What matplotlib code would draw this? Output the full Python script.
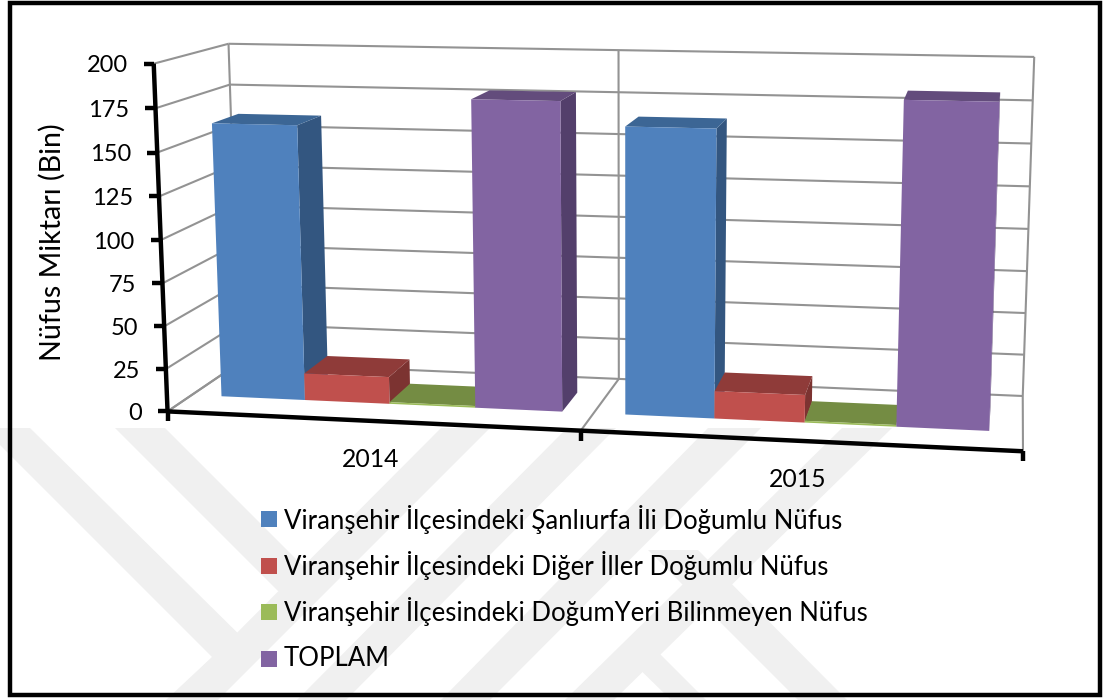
#!/usr/bin/env python3
"""3D clustered bars (Excel look) drawn through a small camera model."""
import numpy as np
import matplotlib
matplotlib.use("Agg")
import matplotlib.pyplot as plt
from matplotlib.patches import Polygon, Rectangle

plt.rcParams["font.family"] = ["Lato", "DejaVu Sans"]

years = ["2014", "2015"]
series = ["Viranşehir İlçesindeki Şanlıurfa İli Doğumlu Nüfus",
          "Viranşehir İlçesindeki Diğer İller Doğumlu Nüfus",
          "Viranşehir İlçesindeki DoğumYeri Bilinmeyen Nüfus",
          "TOPLAM"]
sanliurfa = [162, 165.5]
diger = [16, 16]
bilinmeyen = [1, 1]
toplam = [179, 183.5]
values = [sanliurfa, diger, bilinmeyen, toplam]
yticks = [0, 25, 50, 75, 100, 125, 150, 175, 200]

front = ["#4F81BD", "#C0504D", "#9BBB59", "#8264A2"]
top = ["#3C6695", "#8F3B39", "#748C43", "#634C7C"]
side = ["#335680", "#7C3331", "#5F7337", "#533F6B"]

# camera calibration: (category, value, depth) -> pixel
world = np.array([(0, 0, 0), (0, 200, 0), (0, 200, 1), (0, 0, 1), (1, 200, 1), (1, 0, 1),
                  (2, 200, 1), (2, 0, 1), (2, 0, 0), (1, 0, 0)], float)
pixel = np.array([(167, 411), (154, 64), (228, 43.5), (240, 363), (619, 50), (618, 379),
                  (1034, 57), (1023, 396), (1023, 451), (581, 431)], float)


def fit_camera(w, p):
    rows, rhs = [], []
    for (x, y, z), (u, v) in zip(w, p):
        rows.append([x, y, z, 1, 0, 0, 0, 0, -u * x, -u * y, -u * z]); rhs.append(u)
        rows.append([0, 0, 0, 0, x, y, z, 1, -v * x, -v * y, -v * z]); rhs.append(v)
    m = np.linalg.lstsq(np.array(rows), np.array(rhs), rcond=None)[0]
    return np.append(m, 1).reshape(3, 4)


CAM = fit_camera(world / [1, 100, 1], pixel)


def proj(x, y, z):
    h = CAM @ np.array([x, y / 100, z, 1.0])
    return h[0] / h[2], h[1] / h[2]


fig = plt.figure(figsize=(11.05, 7.0), dpi=100)
ax = fig.add_axes([0, 0, 1, 1])
ax.set_xlim(0, 1105); ax.set_ylim(700, 0); ax.axis("off")


def pline(a, b, **kw):
    pa, pb = proj(*a), proj(*b)
    ax.plot([pa[0], pb[0]], [pa[1], pb[1]], solid_capstyle="butt", **kw)


# watermark bands
BAND = "#F0F0F0"
for pts in [[(0, 428), (30, 428), (260, 655), (215, 700), (166, 700), (212, 657), (0, 445)],
            [(115, 428), (165, 428), (320, 583), (278, 591)],
            [(170, 700), (218, 700), (490, 428), (441, 428)],
            [(297, 700), (346, 700), (616, 428), (567, 428)],
            [(441, 700), (490, 700), (761, 428), (708, 428)],
            [(565, 700), (614, 700), (892, 428), (842, 428)],
            [(648, 550), (698, 550), (847, 700), (798, 700)],
            [(620, 650), (656, 650), (706, 700), (671, 700)]]:
    ax.add_patch(Polygon(pts, closed=True, fc=BAND, ec="none", zorder=0))

# grid
GRID = dict(color="#939393", lw=1.5, zorder=1)
for v in yticks:
    pline((0, v, 0), (0, v, 1), **GRID)
    pline((0, v, 1), (2, v, 1), **GRID)
for c in range(3):
    pline((c, 0, 1), (c, 200, 1), **GRID)
    pline((c, 0, 0), (c, 0, 1), **GRID)

# bars
GAP = 0.076
W = (1 - 2 * GAP) / 4
Z0, Z1 = 0.32, 0.69
for c in range(len(years)):
    for s, vals in enumerate(values):
        x0 = c + GAP + s * W
        x1 = x0 + W
        v = vals[c]
        z = 2 + c + s * 0.1
        ax.add_patch(Polygon([proj(x1, 0, Z0), proj(x1, 0, Z1), proj(x1, v, Z1), proj(x1, v, Z0)],
                             fc=side[s], ec="none", zorder=z))
        ax.add_patch(Polygon([proj(x0, v, Z0), proj(x1, v, Z0), proj(x1, v, Z1), proj(x0, v, Z1)],
                             fc=top[s], ec="none", zorder=z))
        ax.add_patch(Polygon([proj(x0, 0, Z0), proj(x1, 0, Z0), proj(x1, v, Z0), proj(x0, v, Z0)],
                             fc=front[s], ec="none", zorder=z))

# axes
AXIS = dict(color="black", lw=3.2, zorder=10)
pline((0, 0, 0), (0, 200, 0), **AXIS)
pline((0, 0, 0), (2, 0, 0), **AXIS)
for v in yticks:
    px, py = proj(0, v, 0)
    ax.plot([px - 10, px], [py, py], solid_capstyle="butt", **AXIS)
    ax.text(px - 26, py + 2, str(v), ha="right", va="center", fontsize=17, zorder=11)
for c in range(3):
    px, py = proj(c, 0, 0)
    ax.plot([px, px], [py, py + 10], solid_capstyle="butt", **AXIS)
for c, y in enumerate(years):
    px, py = proj(c + 0.5, 0, 0)
    ax.text(px, py + 39, y, ha="center", va="center", fontsize=17.8, zorder=11)

ax.text(52, 242, "Nüfus Miktarı (Bin)", rotation=90, ha="center", va="center", fontsize=20.6)

# legend
for s, name in enumerate(series):
    ly = 519 + s * 46.5
    ax.add_patch(Rectangle((261, ly - 8), 16, 16, fc=front[s], ec="none", zorder=5))
    ax.text(284, ly, name, ha="left", va="center", fontsize=18.5, zorder=5)

# frame
ax.add_patch(Rectangle((9.5, 3), 1090.5, 692, fc="none", ec="black", lw=3.2, zorder=12))

fig.savefig("out.png", dpi=100)
